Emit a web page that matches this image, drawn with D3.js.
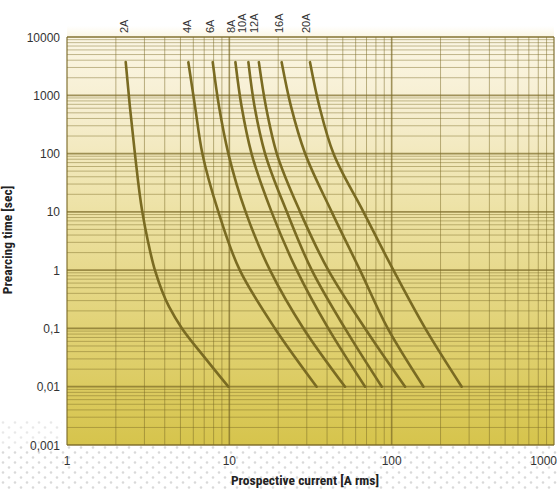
<!DOCTYPE html>
<html>
<head>
<meta charset="utf-8">
<script src="https://cdn.jsdelivr.net/npm/d3@7"></script>
<style>
  body { margin: 0; background: #fff; }
  svg { display: block; font-family: "Liberation Sans", Arial, sans-serif; }
</style>
</head>
<body>
<svg id="chart"></svg>
<script>
// fuse ratings and their prearcing curves (current in A, time in s)
const fuses = ["2A", "4A", "6A", "8A", "10A", "12A", "16A", "20A"];
const times = [3700, 640, 100, 10, 1, 0.1, 0.01];
const current2A = [2.30, 2.44, 2.62, 2.91, 3.48, 5.11, 9.86];
const current4A = [5.59, 6.15, 6.82, 8.56, 11.6, 19.1, 34.5];
const current6A = [7.90, 8.64, 9.86, 12.6, 17.8, 28.6, 51.6];
const current8A = [10.9, 11.9, 13.7, 18.2, 26.0, 40.7, 68.6];
const current10A = [13.1, 14.3, 16.6, 22.6, 32.2, 51.6, 86.9];
const current12A = [15.2, 16.8, 19.6, 27.3, 40.7, 68.6, 121];
const current16A = [21.0, 24.0, 29.3, 42.7, 63.8, 94.6, 157];
const current20A = [31.4, 35.9, 43.8, 67.0, 102.5, 161, 270];
// the 2A curve has a softer knee, extra points
const knee2A = [[3.14, 3.29], [4.25, 0.236], [6.98, 0.0328]];

const xTicks = [1, 10, 100, 1000];
const yTicks = [10000, 1000, 100, 10, 1, 0.1, 0.01, 0.001];
const yTickLabels = ["10000", "1000", "100", "10", "1", "0,1", "0,01", "0,001"];

const W = 557, H = 490;
const svg = d3.select("#chart").attr("width", W).attr("height", H);

const x = d3.scaleLog().domain([1, 1000]).range([67, 554]);
const y = d3.scaleLog().domain([0.001, 10000]).range([445, 37]);

const defs = svg.append("defs");
const grad = defs.append("linearGradient").attr("id", "bg").attr("x1", 0).attr("y1", 0).attr("x2", 0).attr("y2", 1);
[["0%", "#fbf6e4"], ["18%", "#f6eed0"], ["40%", "#eee3a9"], ["70%", "#e2d378"], ["100%", "#d6c44c"]]
    .forEach(s => grad.append("stop").attr("offset", s[0]).attr("stop-color", s[1]));

const fade = defs.append("linearGradient").attr("id", "fade").attr("x1", 0).attr("y1", 0).attr("x2", 0).attr("y2", 1);
fade.append("stop").attr("offset", "0%").attr("stop-color", "#fbf6e4").attr("stop-opacity", 0);
fade.append("stop").attr("offset", "100%").attr("stop-color", "#fbf6e4").attr("stop-opacity", 1);

const dots = defs.append("pattern").attr("id", "dots").attr("patternUnits", "userSpaceOnUse")
    .attr("width", 12).attr("height", 10);
dots.append("circle").attr("cx", 3).attr("cy", 2.5).attr("r", 1.3).attr("fill", "#d9d9d9");
dots.append("circle").attr("cx", 9).attr("cy", 7.5).attr("r", 1.3).attr("fill", "#d9d9d9");

// dotted paper under the plot
svg.append("rect").attr("x", 0).attr("y", 445).attr("width", W).attr("height", H - 445).attr("fill", "url(#dots)");
svg.append("rect").attr("x", 0).attr("y", 420).attr("width", 62).attr("height", 25).attr("fill", "url(#dots)").attr("opacity", 0.6);

// plot background
svg.append("rect").attr("x", x(1)).attr("y", 26).attr("width", x(1000) - x(1)).attr("height", y(10000) - 26)
    .attr("fill", "url(#fade)");
svg.append("rect").attr("x", x(1)).attr("y", y(10000)).attr("width", x(1000) - x(1)).attr("height", y(0.001) - y(10000))
    .attr("fill", "url(#bg)");

// grid
const minorX = [], minorY = [];
for (let d = 1; d < 1000; d *= 10) for (let k = 1; k <= 9; k++) minorX.push(d * k);
minorX.push(1000);
for (let d = 0.001; d < 9999; d *= 10) for (let k = 1; k <= 9; k++) minorY.push(d * k);
minorY.push(10000);

const isMajor = v => Math.abs(Math.log10(v) - Math.round(Math.log10(v))) < 1e-6;

const grid = svg.append("g");
grid.selectAll(".vx").data(minorX).enter().append("line")
    .attr("x1", d => x(d)).attr("x2", d => x(d))
    .attr("y1", y(10000)).attr("y2", y(0.001))
    .attr("stroke", "#7a6a26")
    .attr("stroke-opacity", d => isMajor(d) ? 0.7 : 0.5)
    .attr("stroke-width", d => isMajor(d) ? 1.6 : 1);
grid.selectAll(".hy").data(minorY).enter().append("line")
    .attr("x1", x(1)).attr("x2", x(1000))
    .attr("y1", d => y(d)).attr("y2", d => y(d))
    .attr("stroke", "#7a6a26")
    .attr("stroke-opacity", d => isMajor(d) ? 0.7 : 0.45)
    .attr("stroke-width", d => isMajor(d) ? 1.8 : 1);

// curves
const series = [current2A, current4A, current6A, current8A, current10A, current12A, current16A, current20A]
    .map((c, i) => {
        let pts = c.map((v, j) => [v, times[j]]);
        if (i === 0) pts = pts.concat(knee2A).sort((a, b) => a[0] - b[0]);
        return { name: fuses[i], pts };
    });

const line = d3.line().x(d => x(d[0])).y(d => y(d[1])).curve(d3.curveMonotoneY);

svg.append("g").selectAll("path").data(series).enter().append("path")
    .attr("d", d => line(d.pts))
    .attr("fill", "none")
    .attr("stroke", "#7a6b22")
    .attr("stroke-width", 2.6)
    .attr("stroke-linecap", "round");

// fuse labels at the top
const labelShift = { "2A": -2, "4A": -1, "6A": -3, "8A": -4, "10A": -6, "12A": -5, "16A": -3, "20A": -4 };
svg.append("g").selectAll("text").data(series).enter().append("text")
    .attr("transform", d => `translate(${x(d.pts[0][0]) + labelShift[d.name] + 4},33) rotate(-90)`)
    .attr("font-size", 11)
    .attr("fill", "#333")
    .text(d => d.name);

// axis labels
svg.append("g").selectAll("text").data(yTicks).enter().append("text")
    .attr("x", 60).attr("y", d => y(d) + 4.5)
    .attr("text-anchor", "end")
    .attr("font-size", 12)
    .attr("fill", "#333")
    .text((d, i) => yTickLabels[i]);

svg.append("g").selectAll("text").data(xTicks).enter().append("text")
    .attr("x", d => d === 1000 ? x(d) + 3 : x(d))
    .attr("y", 465)
    .attr("text-anchor", d => d === 1000 ? "end" : "middle")
    .attr("font-size", 12)
    .attr("fill", "#333")
    .text(d => d);

svg.append("text")
    .attr("x", 305).attr("y", 485)
    .attr("text-anchor", "middle")
    .attr("font-size", 13.5).attr("font-weight", "bold")
    .attr("font-family", "'Liberation Sans Narrow', 'Roboto Condensed', 'Liberation Sans', sans-serif")
    .attr("fill", "#222")
    .text("Prospective current [A rms]");

svg.append("text")
    .attr("transform", "translate(12,240) rotate(-90)")
    .attr("text-anchor", "middle")
    .attr("font-size", 13.5).attr("font-weight", "bold")
    .attr("font-family", "'Liberation Sans Narrow', 'Roboto Condensed', 'Liberation Sans', sans-serif")
    .attr("fill", "#222")
    .text("Prearcing time [sec]");
</script>
</body>
</html>
